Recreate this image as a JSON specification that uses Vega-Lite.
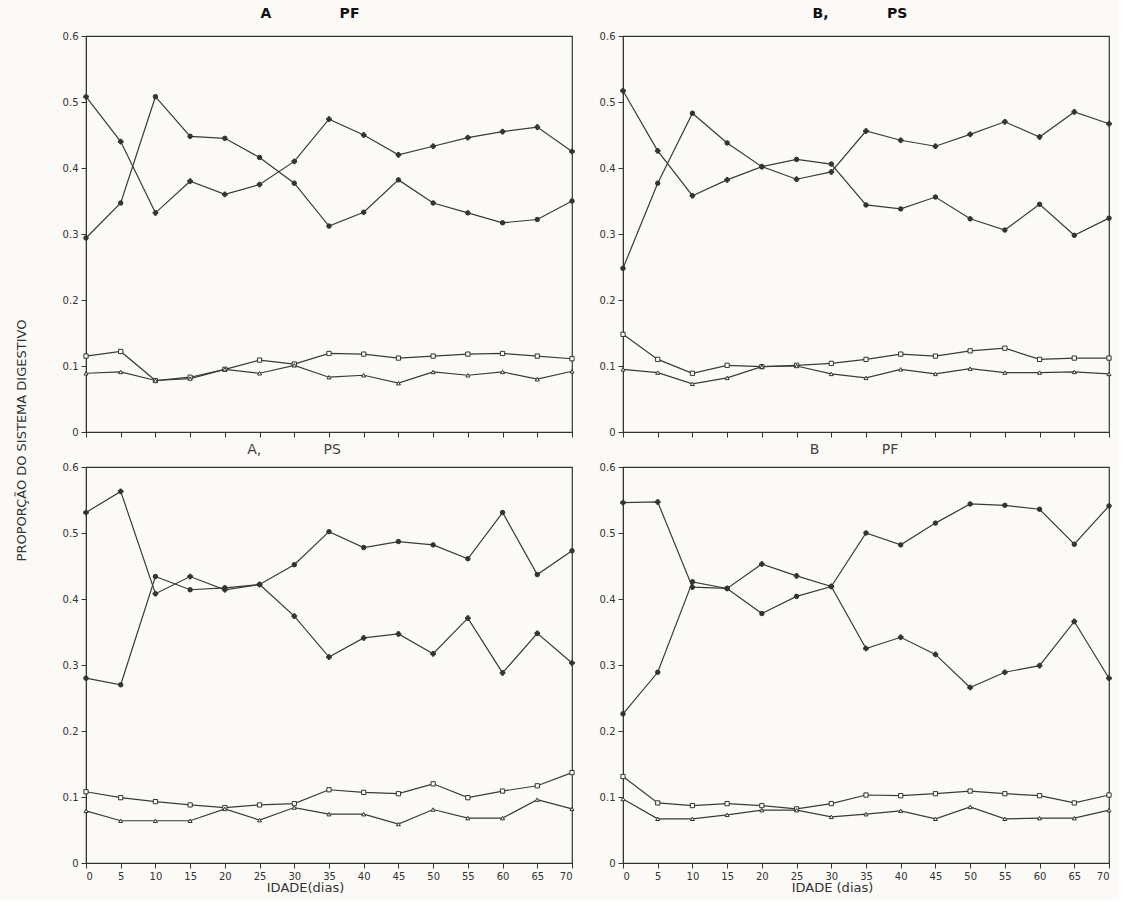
{
"$schema":"https://vega.github.io/schema/vega-lite/v6.json",
"background":"#fbfaf6",
"padding":{"left":14,"top":6,"right":5,"bottom":5},
"config":{
 "view":{"stroke":"#333","strokeWidth":1.2},
 "axis":{"grid":false,"domainColor":"#333","tickColor":"#333","labelColor":"#333","labelFont":"DejaVu Sans","labelFontSize":10,"tickSize":5,"labelPadding":3,"titleFont":"DejaVu Sans","titleColor":"#333","titleFontWeight":"normal","titleFontSize":13},
 "title":{"font":"DejaVu Sans","fontSize":14,"color":"#111","anchor":"middle"}
},
"datasets":{"all":[
{"p":"TL","s":"s1","d":0,"v":0.508},{"p":"TL","s":"s1","d":5,"v":0.44},{"p":"TL","s":"s1","d":10,"v":0.332},{"p":"TL","s":"s1","d":15,"v":0.38},{"p":"TL","s":"s1","d":20,"v":0.36},{"p":"TL","s":"s1","d":25,"v":0.375},{"p":"TL","s":"s1","d":30,"v":0.41},{"p":"TL","s":"s1","d":35,"v":0.474},{"p":"TL","s":"s1","d":40,"v":0.45},{"p":"TL","s":"s1","d":45,"v":0.42},{"p":"TL","s":"s1","d":50,"v":0.433},{"p":"TL","s":"s1","d":55,"v":0.446},{"p":"TL","s":"s1","d":60,"v":0.455},{"p":"TL","s":"s1","d":65,"v":0.462},{"p":"TL","s":"s1","d":70,"v":0.425},
{"p":"TL","s":"s2","d":0,"v":0.294},{"p":"TL","s":"s2","d":5,"v":0.347},{"p":"TL","s":"s2","d":10,"v":0.508},{"p":"TL","s":"s2","d":15,"v":0.448},{"p":"TL","s":"s2","d":20,"v":0.445},{"p":"TL","s":"s2","d":25,"v":0.416},{"p":"TL","s":"s2","d":30,"v":0.377},{"p":"TL","s":"s2","d":35,"v":0.312},{"p":"TL","s":"s2","d":40,"v":0.333},{"p":"TL","s":"s2","d":45,"v":0.382},{"p":"TL","s":"s2","d":50,"v":0.347},{"p":"TL","s":"s2","d":55,"v":0.332},{"p":"TL","s":"s2","d":60,"v":0.317},{"p":"TL","s":"s2","d":65,"v":0.322},{"p":"TL","s":"s2","d":70,"v":0.35},
{"p":"TL","s":"sq","d":0,"v":0.115},{"p":"TL","s":"sq","d":5,"v":0.122},{"p":"TL","s":"sq","d":10,"v":0.078},{"p":"TL","s":"sq","d":15,"v":0.083},{"p":"TL","s":"sq","d":20,"v":0.095},{"p":"TL","s":"sq","d":25,"v":0.109},{"p":"TL","s":"sq","d":30,"v":0.103},{"p":"TL","s":"sq","d":35,"v":0.119},{"p":"TL","s":"sq","d":40,"v":0.118},{"p":"TL","s":"sq","d":45,"v":0.112},{"p":"TL","s":"sq","d":50,"v":0.115},{"p":"TL","s":"sq","d":55,"v":0.118},{"p":"TL","s":"sq","d":60,"v":0.119},{"p":"TL","s":"sq","d":65,"v":0.115},{"p":"TL","s":"sq","d":70,"v":0.111},
{"p":"TL","s":"tri","d":0,"v":0.089},{"p":"TL","s":"tri","d":5,"v":0.091},{"p":"TL","s":"tri","d":10,"v":0.078},{"p":"TL","s":"tri","d":15,"v":0.081},{"p":"TL","s":"tri","d":20,"v":0.095},{"p":"TL","s":"tri","d":25,"v":0.089},{"p":"TL","s":"tri","d":30,"v":0.101},{"p":"TL","s":"tri","d":35,"v":0.083},{"p":"TL","s":"tri","d":40,"v":0.086},{"p":"TL","s":"tri","d":45,"v":0.074},{"p":"TL","s":"tri","d":50,"v":0.091},{"p":"TL","s":"tri","d":55,"v":0.086},{"p":"TL","s":"tri","d":60,"v":0.091},{"p":"TL","s":"tri","d":65,"v":0.08},{"p":"TL","s":"tri","d":70,"v":0.092},
{"p":"TR","s":"s1","d":0,"v":0.517},{"p":"TR","s":"s1","d":5,"v":0.426},{"p":"TR","s":"s1","d":10,"v":0.358},{"p":"TR","s":"s1","d":15,"v":0.382},{"p":"TR","s":"s1","d":20,"v":0.402},{"p":"TR","s":"s1","d":25,"v":0.383},{"p":"TR","s":"s1","d":30,"v":0.394},{"p":"TR","s":"s1","d":35,"v":0.456},{"p":"TR","s":"s1","d":40,"v":0.442},{"p":"TR","s":"s1","d":45,"v":0.433},{"p":"TR","s":"s1","d":50,"v":0.451},{"p":"TR","s":"s1","d":55,"v":0.47},{"p":"TR","s":"s1","d":60,"v":0.447},{"p":"TR","s":"s1","d":65,"v":0.485},{"p":"TR","s":"s1","d":70,"v":0.467},
{"p":"TR","s":"s2","d":0,"v":0.248},{"p":"TR","s":"s2","d":5,"v":0.377},{"p":"TR","s":"s2","d":10,"v":0.483},{"p":"TR","s":"s2","d":15,"v":0.438},{"p":"TR","s":"s2","d":20,"v":0.402},{"p":"TR","s":"s2","d":25,"v":0.413},{"p":"TR","s":"s2","d":30,"v":0.406},{"p":"TR","s":"s2","d":35,"v":0.344},{"p":"TR","s":"s2","d":40,"v":0.338},{"p":"TR","s":"s2","d":45,"v":0.356},{"p":"TR","s":"s2","d":50,"v":0.323},{"p":"TR","s":"s2","d":55,"v":0.306},{"p":"TR","s":"s2","d":60,"v":0.345},{"p":"TR","s":"s2","d":65,"v":0.298},{"p":"TR","s":"s2","d":70,"v":0.324},
{"p":"TR","s":"sq","d":0,"v":0.148},{"p":"TR","s":"sq","d":5,"v":0.11},{"p":"TR","s":"sq","d":10,"v":0.089},{"p":"TR","s":"sq","d":15,"v":0.101},{"p":"TR","s":"sq","d":20,"v":0.099},{"p":"TR","s":"sq","d":25,"v":0.101},{"p":"TR","s":"sq","d":30,"v":0.104},{"p":"TR","s":"sq","d":35,"v":0.11},{"p":"TR","s":"sq","d":40,"v":0.118},{"p":"TR","s":"sq","d":45,"v":0.115},{"p":"TR","s":"sq","d":50,"v":0.123},{"p":"TR","s":"sq","d":55,"v":0.127},{"p":"TR","s":"sq","d":60,"v":0.11},{"p":"TR","s":"sq","d":65,"v":0.112},{"p":"TR","s":"sq","d":70,"v":0.112},
{"p":"TR","s":"tri","d":0,"v":0.095},{"p":"TR","s":"tri","d":5,"v":0.09},{"p":"TR","s":"tri","d":10,"v":0.073},{"p":"TR","s":"tri","d":15,"v":0.082},{"p":"TR","s":"tri","d":20,"v":0.099},{"p":"TR","s":"tri","d":25,"v":0.1},{"p":"TR","s":"tri","d":30,"v":0.088},{"p":"TR","s":"tri","d":35,"v":0.082},{"p":"TR","s":"tri","d":40,"v":0.095},{"p":"TR","s":"tri","d":45,"v":0.088},{"p":"TR","s":"tri","d":50,"v":0.096},{"p":"TR","s":"tri","d":55,"v":0.09},{"p":"TR","s":"tri","d":60,"v":0.09},{"p":"TR","s":"tri","d":65,"v":0.091},{"p":"TR","s":"tri","d":70,"v":0.088},
{"p":"BL","s":"s1","d":0,"v":0.531},{"p":"BL","s":"s1","d":5,"v":0.563},{"p":"BL","s":"s1","d":10,"v":0.408},{"p":"BL","s":"s1","d":15,"v":0.434},{"p":"BL","s":"s1","d":20,"v":0.414},{"p":"BL","s":"s1","d":25,"v":0.422},{"p":"BL","s":"s1","d":30,"v":0.374},{"p":"BL","s":"s1","d":35,"v":0.312},{"p":"BL","s":"s1","d":40,"v":0.341},{"p":"BL","s":"s1","d":45,"v":0.347},{"p":"BL","s":"s1","d":50,"v":0.317},{"p":"BL","s":"s1","d":55,"v":0.371},{"p":"BL","s":"s1","d":60,"v":0.288},{"p":"BL","s":"s1","d":65,"v":0.348},{"p":"BL","s":"s1","d":70,"v":0.303},
{"p":"BL","s":"s2","d":0,"v":0.28},{"p":"BL","s":"s2","d":5,"v":0.27},{"p":"BL","s":"s2","d":10,"v":0.434},{"p":"BL","s":"s2","d":15,"v":0.414},{"p":"BL","s":"s2","d":20,"v":0.417},{"p":"BL","s":"s2","d":25,"v":0.422},{"p":"BL","s":"s2","d":30,"v":0.452},{"p":"BL","s":"s2","d":35,"v":0.502},{"p":"BL","s":"s2","d":40,"v":0.478},{"p":"BL","s":"s2","d":45,"v":0.487},{"p":"BL","s":"s2","d":50,"v":0.482},{"p":"BL","s":"s2","d":55,"v":0.461},{"p":"BL","s":"s2","d":60,"v":0.531},{"p":"BL","s":"s2","d":65,"v":0.437},{"p":"BL","s":"s2","d":70,"v":0.473},
{"p":"BL","s":"sq","d":0,"v":0.108},{"p":"BL","s":"sq","d":5,"v":0.099},{"p":"BL","s":"sq","d":10,"v":0.093},{"p":"BL","s":"sq","d":15,"v":0.088},{"p":"BL","s":"sq","d":20,"v":0.084},{"p":"BL","s":"sq","d":25,"v":0.088},{"p":"BL","s":"sq","d":30,"v":0.09},{"p":"BL","s":"sq","d":35,"v":0.111},{"p":"BL","s":"sq","d":40,"v":0.107},{"p":"BL","s":"sq","d":45,"v":0.105},{"p":"BL","s":"sq","d":50,"v":0.12},{"p":"BL","s":"sq","d":55,"v":0.099},{"p":"BL","s":"sq","d":60,"v":0.109},{"p":"BL","s":"sq","d":65,"v":0.117},{"p":"BL","s":"sq","d":70,"v":0.137},
{"p":"BL","s":"tri","d":0,"v":0.079},{"p":"BL","s":"tri","d":5,"v":0.064},{"p":"BL","s":"tri","d":10,"v":0.064},{"p":"BL","s":"tri","d":15,"v":0.064},{"p":"BL","s":"tri","d":20,"v":0.082},{"p":"BL","s":"tri","d":25,"v":0.065},{"p":"BL","s":"tri","d":30,"v":0.084},{"p":"BL","s":"tri","d":35,"v":0.074},{"p":"BL","s":"tri","d":40,"v":0.074},{"p":"BL","s":"tri","d":45,"v":0.059},{"p":"BL","s":"tri","d":50,"v":0.081},{"p":"BL","s":"tri","d":55,"v":0.068},{"p":"BL","s":"tri","d":60,"v":0.068},{"p":"BL","s":"tri","d":65,"v":0.096},{"p":"BL","s":"tri","d":70,"v":0.082},
{"p":"BR","s":"s1","d":0,"v":0.546},{"p":"BR","s":"s1","d":5,"v":0.547},{"p":"BR","s":"s1","d":10,"v":0.418},{"p":"BR","s":"s1","d":15,"v":0.416},{"p":"BR","s":"s1","d":20,"v":0.453},{"p":"BR","s":"s1","d":25,"v":0.435},{"p":"BR","s":"s1","d":30,"v":0.419},{"p":"BR","s":"s1","d":35,"v":0.325},{"p":"BR","s":"s1","d":40,"v":0.342},{"p":"BR","s":"s1","d":45,"v":0.316},{"p":"BR","s":"s1","d":50,"v":0.266},{"p":"BR","s":"s1","d":55,"v":0.289},{"p":"BR","s":"s1","d":60,"v":0.299},{"p":"BR","s":"s1","d":65,"v":0.366},{"p":"BR","s":"s1","d":70,"v":0.28},
{"p":"BR","s":"s2","d":0,"v":0.226},{"p":"BR","s":"s2","d":5,"v":0.289},{"p":"BR","s":"s2","d":10,"v":0.426},{"p":"BR","s":"s2","d":15,"v":0.416},{"p":"BR","s":"s2","d":20,"v":0.378},{"p":"BR","s":"s2","d":25,"v":0.404},{"p":"BR","s":"s2","d":30,"v":0.419},{"p":"BR","s":"s2","d":35,"v":0.5},{"p":"BR","s":"s2","d":40,"v":0.482},{"p":"BR","s":"s2","d":45,"v":0.515},{"p":"BR","s":"s2","d":50,"v":0.544},{"p":"BR","s":"s2","d":55,"v":0.542},{"p":"BR","s":"s2","d":60,"v":0.536},{"p":"BR","s":"s2","d":65,"v":0.483},{"p":"BR","s":"s2","d":70,"v":0.541},
{"p":"BR","s":"sq","d":0,"v":0.131},{"p":"BR","s":"sq","d":5,"v":0.091},{"p":"BR","s":"sq","d":10,"v":0.087},{"p":"BR","s":"sq","d":15,"v":0.09},{"p":"BR","s":"sq","d":20,"v":0.087},{"p":"BR","s":"sq","d":25,"v":0.082},{"p":"BR","s":"sq","d":30,"v":0.09},{"p":"BR","s":"sq","d":35,"v":0.103},{"p":"BR","s":"sq","d":40,"v":0.102},{"p":"BR","s":"sq","d":45,"v":0.105},{"p":"BR","s":"sq","d":50,"v":0.109},{"p":"BR","s":"sq","d":55,"v":0.105},{"p":"BR","s":"sq","d":60,"v":0.102},{"p":"BR","s":"sq","d":65,"v":0.091},{"p":"BR","s":"sq","d":70,"v":0.103},
{"p":"BR","s":"tri","d":0,"v":0.097},{"p":"BR","s":"tri","d":5,"v":0.067},{"p":"BR","s":"tri","d":10,"v":0.067},{"p":"BR","s":"tri","d":15,"v":0.073},{"p":"BR","s":"tri","d":20,"v":0.08},{"p":"BR","s":"tri","d":25,"v":0.08},{"p":"BR","s":"tri","d":30,"v":0.07},{"p":"BR","s":"tri","d":35,"v":0.074},{"p":"BR","s":"tri","d":40,"v":0.079},{"p":"BR","s":"tri","d":45,"v":0.067},{"p":"BR","s":"tri","d":50,"v":0.085},{"p":"BR","s":"tri","d":55,"v":0.067},{"p":"BR","s":"tri","d":60,"v":0.068},{"p":"BR","s":"tri","d":65,"v":0.068},{"p":"BR","s":"tri","d":70,"v":0.08}
]},
"data":{"name":"all"},
"columns":2,
"spacing":{"row":35,"column":51},
"bounds":"flush",
"concat":[
 {"width":486,"height":396,
  "title":{"text":"A\u00a0\u00a0\u00a0\u00a0\u00a0\u00a0\u00a0\u00a0\u00a0\u00a0\u00a0\u00a0\u00a0\u00a0PF","dx":-19,"offset":10,"fontWeight":"bold"},
  "transform":[{"filter":"datum.p==='TL'"}],
  "encoding":{
   "x":{"field":"d","type":"quantitative","scale":{"domain":[0,70],"nice":false},"axis":{"values":[0,5,10,15,20,25,30,35,40,45,50,55,60,65,70],"labels":false,"title":null}},
   "y":{"field":"v","type":"quantitative","scale":{"domain":[0,0.6]},"axis":{"values":[0,0.1,0.2,0.3,0.4,0.5,0.6],"format":".1~f","title":"PROPORÇÃO DO SISTEMA DIGESTIVO","titleY":404,"titlePadding":34}}
  },
  "layer":[
   {"mark":{"type":"line","color":"#3a3a3a","strokeWidth":1.2},"encoding":{"detail":{"field":"s"}}},
   {"mark":{"type":"point","filled":true,"stroke":"#333","strokeWidth":1,"opacity":1},
    "encoding":{
     "shape":{"field":"s","scale":{"domain":["s1","s2","sq","tri"],"range":["cross","circle","square","triangle-up"]},"legend":null},
     "fill":{"field":"s","scale":{"domain":["s1","s2","sq","tri"],"range":["#333","#333","#fbfaf6","#fbfaf6"]},"legend":null},
     "size":{"field":"s","scale":{"domain":["s1","s2","sq","tri"],"range":[22,16,28,24]},"legend":null}}}
  ]},
 {"width":486,"height":396,
  "title":{"text":"B,\u00a0\u00a0\u00a0\u00a0\u00a0\u00a0\u00a0\u00a0\u00a0\u00a0\u00a0\u00a0PS","dx":-6,"offset":10,"fontWeight":"bold"},
  "transform":[{"filter":"datum.p==='TR'"}],
  "encoding":{
   "x":{"field":"d","type":"quantitative","scale":{"domain":[0,70],"nice":false},"axis":{"values":[0,5,10,15,20,25,30,35,40,45,50,55,60,65,70],"labels":false,"title":null}},
   "y":{"field":"v","type":"quantitative","scale":{"domain":[0,0.6]},"axis":{"values":[0,0.1,0.2,0.3,0.4,0.5,0.6],"format":".1~f","title":null}}
  },
  "layer":[
   {"mark":{"type":"line","color":"#3a3a3a","strokeWidth":1.2},"encoding":{"detail":{"field":"s"}}},
   {"mark":{"type":"point","filled":true,"stroke":"#333","strokeWidth":1,"opacity":1},
    "encoding":{
     "shape":{"field":"s","scale":{"domain":["s1","s2","sq","tri"],"range":["cross","circle","square","triangle-up"]},"legend":null},
     "fill":{"field":"s","scale":{"domain":["s1","s2","sq","tri"],"range":["#333","#333","#fbfaf6","#fbfaf6"]},"legend":null},
     "size":{"field":"s","scale":{"domain":["s1","s2","sq","tri"],"range":[22,16,28,24]},"legend":null}}}
  ]},
 {"width":486,"height":396,
  "title":{"text":"A,\u00a0\u00a0\u00a0\u00a0\u00a0\u00a0\u00a0\u00a0\u00a0\u00a0\u00a0\u00a0\u00a0\u00a0PS","dx":-35,"offset":5,"fontWeight":"normal","color":"#444"},
  "transform":[{"filter":"datum.p==='BL'"}],
  "encoding":{
   "x":{"field":"d","type":"quantitative","scale":{"domain":[0,70],"nice":false},"axis":{"values":[0,5,10,15,20,25,30,35,40,45,50,55,60,65,70],"title":"IDADE(dias)","titleX":219,"titlePadding":0}},
   "y":{"field":"v","type":"quantitative","scale":{"domain":[0,0.6]},"axis":{"values":[0,0.1,0.2,0.3,0.4,0.5,0.6],"format":".1~f","title":null}}
  },
  "layer":[
   {"mark":{"type":"line","color":"#3a3a3a","strokeWidth":1.2},"encoding":{"detail":{"field":"s"}}},
   {"mark":{"type":"point","filled":true,"stroke":"#333","strokeWidth":1,"opacity":1},
    "encoding":{
     "shape":{"field":"s","scale":{"domain":["s1","s2","sq","tri"],"range":["cross","circle","square","triangle-up"]},"legend":null},
     "fill":{"field":"s","scale":{"domain":["s1","s2","sq","tri"],"range":["#333","#333","#fbfaf6","#fbfaf6"]},"legend":null},
     "size":{"field":"s","scale":{"domain":["s1","s2","sq","tri"],"range":[22,16,28,24]},"legend":null}}}
  ]},
 {"width":486,"height":396,
  "title":{"text":"B\u00a0\u00a0\u00a0\u00a0\u00a0\u00a0\u00a0\u00a0\u00a0\u00a0\u00a0\u00a0\u00a0\u00a0PF","dx":-12,"offset":5,"fontWeight":"normal","color":"#444"},
  "transform":[{"filter":"datum.p==='BR'"}],
  "encoding":{
   "x":{"field":"d","type":"quantitative","scale":{"domain":[0,70],"nice":false},"axis":{"values":[0,5,10,15,20,25,30,35,40,45,50,55,60,65,70],"title":"IDADE (dias)","titleX":209,"titlePadding":0}},
   "y":{"field":"v","type":"quantitative","scale":{"domain":[0,0.6]},"axis":{"values":[0,0.1,0.2,0.3,0.4,0.5,0.6],"format":".1~f","title":null}}
  },
  "layer":[
   {"mark":{"type":"line","color":"#3a3a3a","strokeWidth":1.2},"encoding":{"detail":{"field":"s"}}},
   {"mark":{"type":"point","filled":true,"stroke":"#333","strokeWidth":1,"opacity":1},
    "encoding":{
     "shape":{"field":"s","scale":{"domain":["s1","s2","sq","tri"],"range":["cross","circle","square","triangle-up"]},"legend":null},
     "fill":{"field":"s","scale":{"domain":["s1","s2","sq","tri"],"range":["#333","#333","#fbfaf6","#fbfaf6"]},"legend":null},
     "size":{"field":"s","scale":{"domain":["s1","s2","sq","tri"],"range":[22,16,28,24]},"legend":null}}}
  ]}
]
}
